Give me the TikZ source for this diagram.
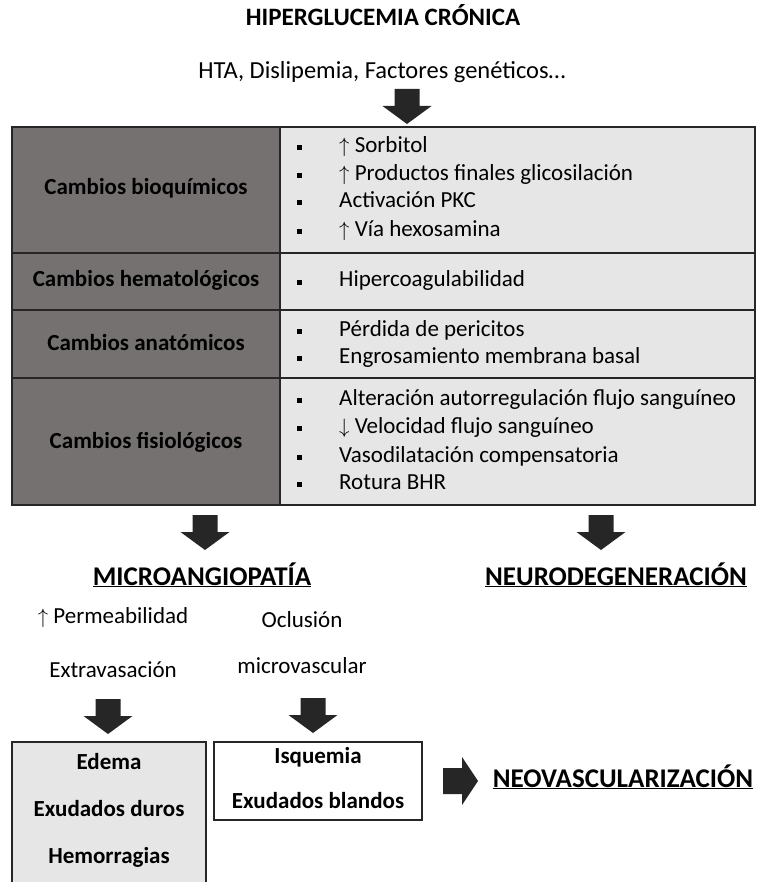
\documentclass[tikz,border=0pt]{standalone}
\usepackage{fontspec}
\setmainfont{Carlito}
\usetikzlibrary{positioning}
\definecolor{darkcell}{RGB}{118,113,113}
\definecolor{lightcell}{RGB}{231,230,230}
\definecolor{inkgray}{RGB}{38,38,38}
\newcommand{\upmark}{{\fontsize{21.5}{21.5}\selectfont\smash{$\uparrow$}}}
\newcommand{\downmark}{{\fontsize{21.5}{21.5}\selectfont\smash{$\downarrow$}}}
\tikzset{
  txt/.style={font=\fontsize{23}{27}\selectfont, inner sep=0pt, text height=15pt, text depth=5pt},
  head/.style={txt, font=\fontsize{23}{27}\selectfont\bfseries},
  big/.style={txt, font=\fontsize{27}{31}\selectfont\bfseries},
  item/.style={txt, anchor=west},
  tbl/.style={draw=inkgray, line width=1.6pt},
  fatdown/.pic={\fill[inkgray] (-12.5,0) -- (12.5,0) -- (12.5,17) -- (24.5,17) -- (0,35) -- (-24.5,17) -- (-12.5,17) -- cycle;},
  fatright/.pic={\fill[inkgray] (0,-13) -- (19,-13) -- (19,-24) -- (35,0) -- (19,24) -- (19,13) -- (0,13) -- cycle;}
}
\begin{document}
\begin{tikzpicture}[x=1pt, y=-1pt]
    \useasboundingbox[fill=white] (0,0) rectangle (757,882);

    \node[head, font=\fontsize{25}{29}\selectfont\bfseries] (title) at (383,21) {HIPERGLUCEMIA CRÓNICA};
    \node[txt, font=\fontsize{24.5}{29}\selectfont] (risk) at (382,74) {HTA, Dislipemia, Factores genéticos…};
    \pic at (407,89) {fatdown};

    \fill[darkcell] (12,127) rectangle (280,505);
    \fill[lightcell] (280,127) rectangle (755,505);
    \draw[tbl] (12,127) rectangle (755,505);
    \foreach \y in {253,310,378}
        \draw[tbl] (12,\y) -- (755,\y);
    \draw[tbl] (280,127) -- (280,505);

    \node[head] (bioq) at (146,190) {Cambios bioquímicos};
    \node[head] (hema) at (146,282) {Cambios hematológicos};
    \node[head] (anat) at (146,345) {Cambios anatómicos};
    \node[head] (fisi) at (146,443) {Cambios fisiológicos};

    \foreach \y/\t [count=\i] in {
        148/{\upmark\ Sorbitol},
        176/{\upmark\ Productos finales glicosilación},
        203/{Activación PKC},
        232/{\upmark\ Vía hexosamina},
        282/{Hipercoagulabilidad},
        331/{Pérdida de pericitos},
        358/{Engrosamiento membrana basal},
        400/{Alteración autorregulación flujo sanguíneo},
        428/{\downmark\ Velocidad flujo sanguíneo},
        457/{Vasodilatación compensatoria},
        484/{Rotura BHR}} {
        \fill (296.5,\y-2.5) rectangle +(5,5);
        \node[item] (it-\i) at (339,\y) {\t};
    }

    \pic at (205,515) {fatdown};
    \pic at (601,515) {fatdown};

    \node[big] (micro) at (202,580) {\underline{MICROANGIOPATÍA}};
    \node[big] (neuro) at (616,580) {\underline{NEURODEGENERACIÓN}};

    \node[txt] (perm) at (113,618) {\upmark\ Permeabilidad};
    \node[txt] (extra) at (113,672) {Extravasación};
    \node[txt] (ocl) at (302,622) {Oclusión};
    \node[txt] (mvas) at (302,668) {microvascular};

    \pic at (108,699) {fatdown};
    \pic at (313,698) {fatdown};

    \draw[fill=lightcell, draw=inkgray, line width=1.4pt] (12,742) rectangle (206,886);
    \draw[draw=inkgray, line width=1.4pt] (214,742) rectangle (422,820);

    \node[head] (edema) at (109,764) {Edema};
    \node[head] (duros) at (109,811) {Exudados duros};
    \node[head] (hemo) at (109,858) {Hemorragias};
    \node[head] (isq) at (318,758) {Isquemia};
    \node[head] (bland) at (318,803) {Exudados blandos};

    \pic at (443,781) {fatright};
    \node[big] (neovas) at (623,782) {\underline{NEOVASCULARIZACIÓN}};
\end{tikzpicture}
\end{document}
